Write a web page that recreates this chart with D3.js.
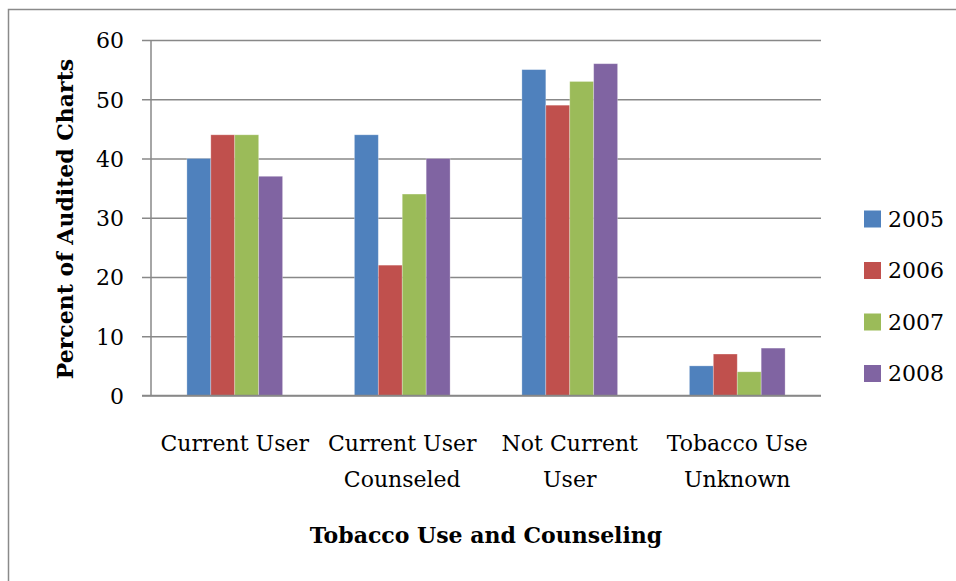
<!DOCTYPE html>
<html>
<head>
<meta charset="utf-8">
<script src="https://cdn.jsdelivr.net/npm/d3@7"></script>
<style>
  body { margin: 0; background: #fff; }
  svg { display: block; font-family: "DejaVu Serif", serif; }
</style>
</head>
<body>
<svg width="956" height="581"></svg>
<script>
var categories = ["Current User", "Current User Counseled", "Not Current User", "Tobacco Use Unknown"];
var years = ["2005", "2006", "2007", "2008"];
var values2005 = [40, 44, 55, 5];
var values2006 = [44, 22, 49, 7];
var values2007 = [44, 34, 53, 4];
var values2008 = [37, 40, 56, 8];
var yTicks = [0, 10, 20, 30, 40, 50, 60];
var colors = ["#4F81BD", "#C0504D", "#9BBB59", "#8064A2"];

var series = [values2005, values2006, values2007, values2008];

var plotLeft = 151, plotRight = 821, plotTop = 40, plotBottom = 395.5;

var svg = d3.select("svg");

// outer chart border (only top/left visible in frame)
svg.append("rect")
  .attr("x", 8.5).attr("y", 9.5)
  .attr("width", 1000).attr("height", 1000)
  .attr("fill", "none")
  .attr("stroke", "#8a8a8a")
  .attr("stroke-width", 1.5);

var x = d3.scaleBand().domain(categories).range([plotLeft, plotRight]).padding(0);
var xInner = d3.scaleBand().domain(years).range([0, x.bandwidth()])
  .paddingInner(0).paddingOuter(1.5);
var y = d3.scaleLinear().domain([0, 60]).range([plotBottom, plotTop]);

// gridlines + y axis
var yAxis = d3.axisLeft(y).tickValues(yTicks)
  .tickSize(-(plotRight - plotLeft)).tickSizeOuter(0).tickPadding(0);
var gy = svg.append("g").attr("transform", "translate(" + plotLeft + ",0)").call(yAxis);
gy.select(".domain").remove();
gy.selectAll(".tick line")
  .attr("x1", -9)
  .attr("stroke", "#888").attr("stroke-width", 1.5);
gy.selectAll(".tick text")
  .attr("x", -27)
  .attr("dy", "0.36em")
  .attr("font-size", 22)
  .attr("font-family", "DejaVu Serif")
  .attr("fill", "#000");

// bars
var groups = svg.selectAll(".cat")
  .data(categories).enter().append("g")
  .attr("class", "cat")
  .attr("transform", function(d) { return "translate(" + x(d) + ",0)"; });

groups.selectAll("rect")
  .data(function(d, i) { return years.map(function(yr, j) { return {year: yr, value: series[j][i], j: j}; }); })
  .enter().append("rect")
  .attr("x", function(d) { return xInner(d.year); })
  .attr("y", function(d) { return y(d.value); })
  .attr("width", xInner.bandwidth())
  .attr("height", function(d) { return y(0) - y(d.value); })
  .attr("fill", function(d) { return colors[d.j]; })
  .attr("stroke", "rgba(255,255,255,0.35)")
  .attr("stroke-width", 0.8);

// axis lines
svg.append("line").attr("x1", plotLeft).attr("x2", plotLeft).attr("y1", plotTop).attr("y2", plotBottom)
  .attr("stroke", "#888").attr("stroke-width", 1.5);
svg.append("line").attr("x1", plotLeft - 9).attr("x2", plotRight).attr("y1", plotBottom).attr("y2", plotBottom)
  .attr("stroke", "#888").attr("stroke-width", 1.5);

// category labels, wrapped to band width
groups.append("text")
  .attr("text-anchor", "middle")
  .attr("font-size", 22)
  .attr("fill", "#000")
  .each(function(d) {
    var t = d3.select(this);
    var words = d.split(" "), lines = [], line = [];
    var probe = t.append("tspan");
    words.forEach(function(w) {
      var test = line.concat([w]).join(" ");
      probe.text(test);
      if (probe.node().getComputedTextLength() > x.bandwidth() - 4 && line.length) {
        lines.push(line.join(" "));
        line = [w];
      } else {
        line.push(w);
      }
    });
    lines.push(line.join(" "));
    probe.remove();
    lines.forEach(function(l, i) {
      t.append("tspan")
        .attr("x", x.bandwidth() / 2)
        .attr("y", 451 + i * 35.5)
        .text(l);
    });
  });

// axis titles
svg.append("text")
  .attr("x", (plotLeft + plotRight) / 2)
  .attr("y", 543)
  .attr("text-anchor", "middle")
  .attr("font-weight", "bold")
  .attr("font-size", 22)
  .text("Tobacco Use and Counseling");

svg.append("text")
  .attr("transform", "translate(73," + 219 + ") rotate(-90)")
  .attr("text-anchor", "middle")
  .attr("font-weight", "bold")
  .attr("font-size", 22)
  .text("Percent of Audited Charts");

// legend
var legend = svg.selectAll(".legend")
  .data(years).enter().append("g")
  .attr("class", "legend")
  .attr("transform", function(d, i) { return "translate(864," + (219 + i * 51.5) + ")"; });

legend.append("rect")
  .attr("x", 0).attr("y", -8.5)
  .attr("width", 17).attr("height", 17)
  .attr("fill", function(d, i) { return colors[i]; });

legend.append("text")
  .attr("x", 24)
  .attr("dy", "0.36em")
  .attr("font-size", 22)
  .text(function(d) { return d; });
</script>
</body>
</html>
